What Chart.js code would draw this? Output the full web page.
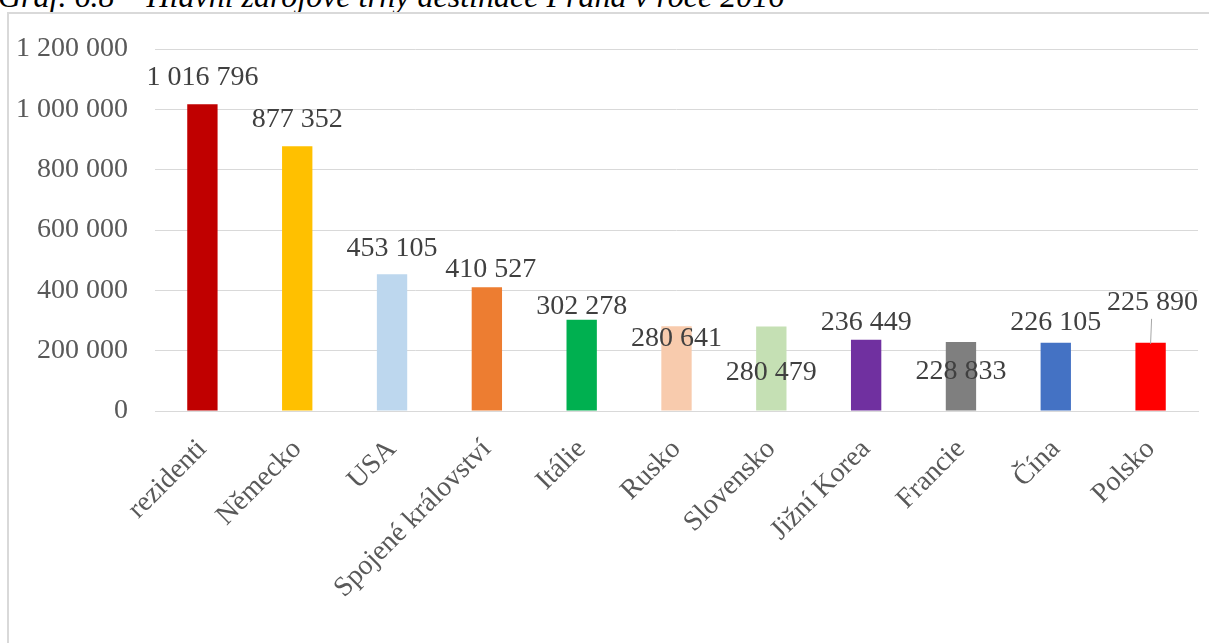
<!DOCTYPE html>
<html>
<head>
<meta charset="utf-8">
<script src="https://cdn.jsdelivr.net/npm/chart.js@4/dist/chart.umd.min.js"></script>
<style>
  html, body { margin: 0; padding: 0; background: #fff; }
  body { width: 1209px; height: 643px; position: relative; overflow: hidden; }
  #title {
    position: absolute; left: -2px; top: -22px; white-space: nowrap; line-height: 1;
    font: italic 32px "Liberation Serif", "Times New Roman", serif; color: #000;
  }
  #frame {
    position: absolute; left: 7px; top: 12px; width: 1220px; height: 660px;
    border: 2px solid #d9d9d9; box-sizing: border-box;
  }
  #wrap { position: absolute; left: 0; top: 0; width: 1209px; height: 643px; }
</style>
</head>
<body>
<div id="title">Graf. 6.8 – Hlavní zdrojové trhy destinace Praha v roce 2016</div>
<div id="frame"></div>
<div id="wrap"><canvas id="chart"></canvas></div>
<script>
const categories = ["rezidenti", "Německo", "USA", "Spojené království", "Itálie", "Rusko",
  "Slovensko", "Jižní Korea", "Francie", "Čína", "Polsko"];
const values = [1016796, 877352, 453105, 410527, 302278, 280641, 280479, 236449, 228833, 226105, 225890];
const barColors = ["#c00000", "#ffc000", "#bdd7ee", "#ed7d31", "#00b050", "#f8cbad",
  "#c5e0b4", "#7030a0", "#7f7f7f", "#4472c4", "#ff0000"];
const yTicks = [0, 200000, 400000, 600000, 800000, 1000000, 1200000];

// label placement relative to bar top (Excel moved some of them)
const labelShift = [[0, -27], [0, -27], [0, -26], [4, -18], [0, -13], [0, 12],
  [0, 46], [0, -17], [0, 30], [0, -20], [2, -40]];

const fmt = v => String(v).replace(/\B(?=(\d{3})+(?!\d))/g, " ");
const serif = '"Liberation Serif", "Times New Roman", serif';

const valueLabels = {
  id: "valueLabels",
  afterDatasetsDraw(chart) {
    const ctx = chart.ctx;
    const meta = chart.getDatasetMeta(0);
    ctx.save();
    ctx.font = "28px " + serif;
    ctx.fillStyle = "#404040";
    ctx.textAlign = "center";
    ctx.textBaseline = "middle";
    meta.data.forEach((bar, i) => {
      const [dx, dy] = labelShift[i];
      const lx = bar.x + dx, ly = bar.y + dy;
      ctx.fillText(fmt(values[i]), lx, ly);
      if (i === values.length - 1) {
        // leader line to the bar
        ctx.strokeStyle = "#a6a6a6";
        ctx.lineWidth = 1;
        ctx.beginPath();
        ctx.moveTo(lx - 1, ly + 16);
        ctx.lineTo(lx - 2, bar.y + 1);
        ctx.stroke();
      }
    });
    ctx.restore();
  }
};

new Chart(document.getElementById("chart"), {
  type: "bar",
  data: {
    labels: categories,
    datasets: [{
      data: values,
      backgroundColor: barColors,
      borderWidth: 0,
      categoryPercentage: 1,
      barPercentage: 0.32
    }]
  },
  options: {
    responsive: true,
    maintainAspectRatio: false,
    animation: false,
    layout: { padding: { top: 49, right: 11, bottom: 0, left: 0 } },
    plugins: { legend: { display: false }, tooltip: { enabled: false } },
    scales: {
      x: {
        grid: { display: false },
        border: { color: "#d9d9d9", width: 1 },
        ticks: {
          color: "#595959",
          font: { family: serif, size: 28 },
          minRotation: 45, maxRotation: 45,
          padding: 14, autoSkip: false
        },
        afterFit(axis) { axis.height = 232; }
      },
      y: {
        min: 0, max: 1200000,
        afterBuildTicks(axis) { axis.ticks = yTicks.map(v => ({ value: v })); },
        grid: { color: "#d9d9d9", lineWidth: 1, drawTicks: false },
        border: { display: false },
        ticks: {
          color: "#595959",
          font: { family: serif, size: 28 },
          padding: 27,
          callback: v => fmt(v)
        },
        afterFit(axis) { axis.width = 155; }
      }
    }
  },
  plugins: [valueLabels]
});
</script>
</body>
</html>
